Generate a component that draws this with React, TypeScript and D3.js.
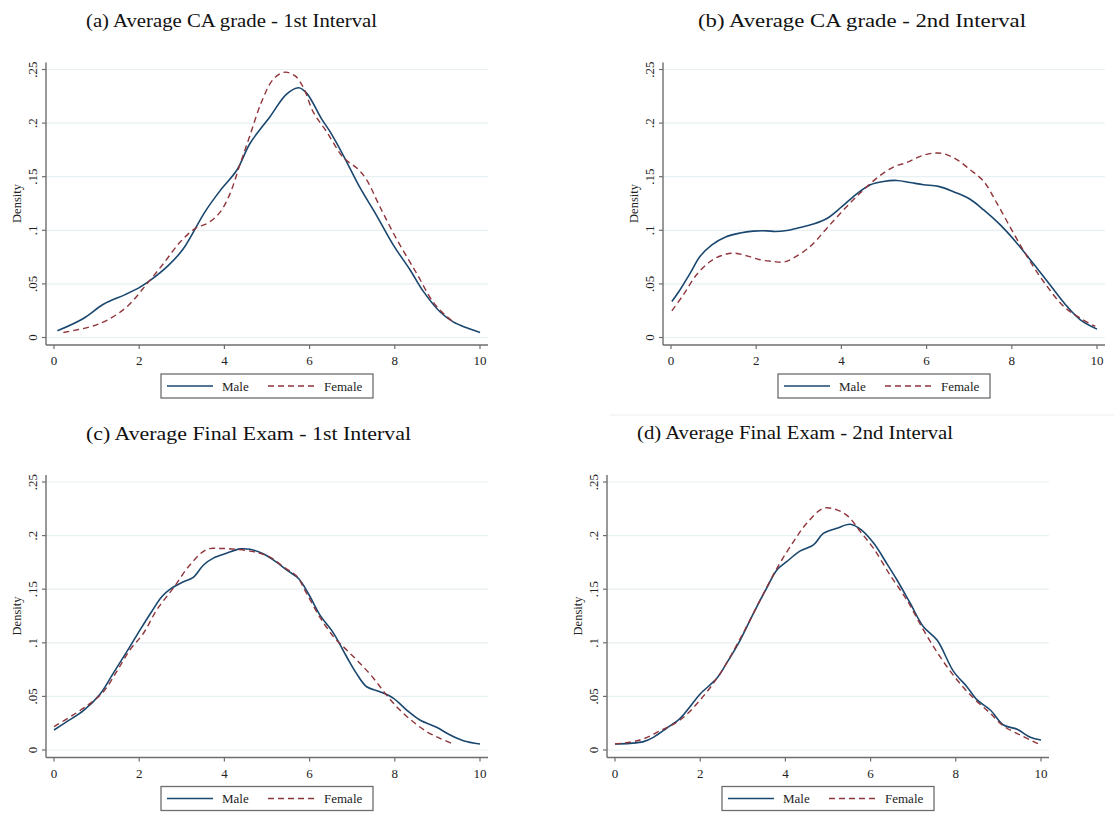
import React from "react";
import * as d3 from "d3";

// ---------- data ----------
const xTicks = [0, 2, 4, 6, 8, 10];
const yTicks = [0, 0.05, 0.1, 0.15, 0.2, 0.25];
const yTickLabels = ["0", ".05", ".1", ".15", ".2", ".25"];
const seriesNames = ["Male", "Female"];
const panelTitles = [
  "(a) Average CA grade - 1st Interval",
  "(b) Average CA grade - 2nd Interval",
  "(c) Average Final Exam - 1st Interval",
  "(d) Average Final Exam - 2nd Interval",
];

type P = [number, number];

const maleA: P[] = [
  [0.08, 0.0062], [0.69, 0.0177], [1.16, 0.031], [1.67, 0.04], [2.02, 0.047], [2.25, 0.053],
  [2.68, 0.067], [3.04, 0.083], [3.54, 0.117], [3.9, 0.137], [4.29, 0.156], [4.6, 0.181],
  [5.07, 0.206], [5.46, 0.227], [5.74, 0.233], [5.93, 0.228], [6.28, 0.204], [6.48, 0.192],
  [6.79, 0.17], [7.18, 0.14], [7.57, 0.114], [7.97, 0.086], [8.36, 0.063], [8.67, 0.043],
  [9.06, 0.024], [9.37, 0.0146], [9.69, 0.009], [10.0, 0.0047],
];
const femaleA: P[] = [
  [0.22, 0.0047], [0.85, 0.01], [1.24, 0.016], [1.71, 0.0286], [2.18, 0.05], [2.57, 0.069],
  [2.96, 0.089], [3.31, 0.1016], [3.62, 0.107], [3.9, 0.117], [4.13, 0.134], [4.37, 0.162],
  [4.6, 0.1885], [4.87, 0.2196], [5.15, 0.241], [5.42, 0.2475], [5.66, 0.244], [5.85, 0.2335],
  [6.09, 0.21], [6.4, 0.192], [6.79, 0.168], [7.14, 0.157], [7.34, 0.147], [7.65, 0.122],
  [8.04, 0.092], [8.51, 0.06], [8.9, 0.033], [9.18, 0.021], [9.37, 0.0146],
];
const maleB: P[] = [
  [0.02, 0.0336], [0.17, 0.042], [0.45, 0.06], [0.68, 0.0756], [0.96, 0.0865], [1.27, 0.0936],
  [1.62, 0.0974], [1.93, 0.0992], [2.25, 0.0995], [2.44, 0.0989], [2.72, 0.0998], [3.03, 0.1026],
  [3.34, 0.1058], [3.66, 0.111], [4.01, 0.122], [4.36, 0.134], [4.68, 0.1425], [4.99, 0.1456],
  [5.3, 0.1465], [5.61, 0.1446], [5.93, 0.1425], [6.28, 0.141], [6.63, 0.136], [7.02, 0.129],
  [7.34, 0.119], [7.73, 0.105], [8.12, 0.088], [8.51, 0.0687], [8.9, 0.049], [9.3, 0.0289],
  [9.61, 0.0165], [10.0, 0.0078],
];
const femaleB: P[] = [
  [0.02, 0.0249], [0.29, 0.0398], [0.6, 0.0585], [0.92, 0.0709], [1.19, 0.0765], [1.46, 0.0787],
  [1.78, 0.0762], [2.09, 0.0725], [2.4, 0.0709], [2.64, 0.0703], [2.87, 0.074], [3.27, 0.085],
  [3.66, 0.102], [4.05, 0.119], [4.44, 0.1347], [4.83, 0.1487], [5.22, 0.159], [5.54, 0.1633],
  [5.85, 0.169], [6.16, 0.172], [6.4, 0.1714], [6.71, 0.166], [7.02, 0.1565], [7.34, 0.1456],
  [7.65, 0.1253], [8.04, 0.0974], [8.43, 0.0709], [8.83, 0.0476], [9.22, 0.0289], [9.61, 0.018],
  [9.96, 0.0103],
];
const maleC: P[] = [
  [0.0, 0.0187], [0.3, 0.0264], [0.69, 0.0367], [1.08, 0.052], [1.39, 0.0715], [1.71, 0.0918],
  [2.02, 0.112], [2.29, 0.129], [2.53, 0.143], [2.76, 0.151], [3.04, 0.157], [3.27, 0.161],
  [3.51, 0.1726], [3.74, 0.179], [4.05, 0.1835], [4.37, 0.1876], [4.6, 0.1872], [4.91, 0.183],
  [5.23, 0.175], [5.46, 0.168], [5.74, 0.16], [5.97, 0.146], [6.24, 0.126], [6.56, 0.109],
  [6.87, 0.087], [7.1, 0.0715], [7.34, 0.059], [7.65, 0.0544], [7.97, 0.0482], [8.28, 0.0373],
  [8.59, 0.028], [8.98, 0.0212], [9.3, 0.014], [9.61, 0.0087], [10.0, 0.0056],
];
const femaleC: P[] = [
  [0.0, 0.0218], [0.45, 0.0327], [0.85, 0.0435], [1.16, 0.0544], [1.47, 0.073], [1.78, 0.0933],
  [2.1, 0.1089], [2.41, 0.1306], [2.8, 0.151], [3.19, 0.1726], [3.58, 0.187], [3.9, 0.188],
  [4.29, 0.1872], [4.68, 0.185], [5.07, 0.18], [5.38, 0.171], [5.7, 0.162], [5.93, 0.146],
  [6.24, 0.124], [6.56, 0.1058], [6.87, 0.0933], [7.18, 0.081], [7.5, 0.0669], [7.81, 0.051],
  [8.12, 0.0373], [8.43, 0.0264], [8.75, 0.0171], [9.06, 0.0109], [9.37, 0.0056],
];
const maleD: P[] = [
  [0.0, 0.0056], [0.35, 0.0062], [0.67, 0.0078], [0.9, 0.0118], [1.21, 0.0202], [1.53, 0.0295],
  [1.76, 0.0404], [2.0, 0.0523], [2.39, 0.0669], [2.62, 0.081], [2.94, 0.1026], [3.25, 0.1275],
  [3.56, 0.151], [3.8, 0.168], [4.03, 0.1757], [4.35, 0.1857], [4.66, 0.1913], [4.89, 0.202],
  [5.21, 0.2068], [5.52, 0.2106], [5.76, 0.206], [6.07, 0.193], [6.38, 0.174], [6.62, 0.1586],
  [6.93, 0.1369], [7.24, 0.115], [7.56, 0.1026], [7.95, 0.0731], [8.26, 0.0591], [8.5, 0.0467],
  [8.81, 0.0373], [9.12, 0.0233], [9.44, 0.0193], [9.75, 0.0118], [10.0, 0.0093],
];
const femaleD: P[] = [
  [0.0, 0.0056], [0.59, 0.0093], [1.06, 0.018], [1.53, 0.028], [2.0, 0.0467], [2.47, 0.0715],
  [2.94, 0.104], [3.41, 0.14], [3.8, 0.1695], [4.19, 0.1944], [4.5, 0.2115], [4.89, 0.2255],
  [5.21, 0.224], [5.48, 0.2177], [5.76, 0.2037], [6.07, 0.188], [6.46, 0.163], [6.85, 0.14],
  [7.24, 0.112], [7.63, 0.087], [8.03, 0.0653], [8.42, 0.0482], [8.81, 0.0342], [9.12, 0.0224],
  [9.51, 0.014], [9.83, 0.0078], [10.0, 0.0047],
];

// ---------- layout / style ----------
const W = 1114;
const H = 813;
const MALE = "#1a476f";
const FEMALE = "#90353b";
const AXIS = "#6e6e6e";
const GRID = "#e7f0f2";
const FONT = "'Liberation Serif', 'Times New Roman', serif";

const panels = [
  { title: panelTitles[0], male: maleA, female: femaleA, x0: 54, y0: 337.5, titleX: 86, titleY: 27, titleW: 291 },
  { title: panelTitles[1], male: maleB, female: femaleB, x0: 671, y0: 337.5, titleX: 698, titleY: 27, titleW: 328 },
  { title: panelTitles[2], male: maleC, female: femaleC, x0: 54, y0: 750, titleX: 86, titleY: 440, titleW: 325 },
  { title: panelTitles[3], male: maleD, female: femaleD, x0: 615, y0: 750, titleX: 637, titleY: 439, titleW: 316 },
];
const PW = 426;
const PH = 268;

function Panel({ p }: { p: (typeof panels)[number] }) {
  const x = d3.scaleLinear().domain([0, 10]).range([p.x0, p.x0 + PW]);
  const y = d3.scaleLinear().domain([0, 0.25]).range([p.y0, p.y0 - PH]);
  const line = d3
    .line<P>()
    .x((d) => x(d[0]))
    .y((d) => y(d[1]))
    .curve(d3.curveCatmullRom.alpha(0.5));
  const axisX = x(0) - 8;
  const axisY = y(0) + 7.5;
  const right = x(10) + 8;
  const top = y(0.25) - 7;
  const L = x(0) + 107;
  const LT = y(0) + 36.5;
  const LH = 24;
  const LM = LT + LH / 2;
  return (
    <g>
      <text x={p.titleX} y={p.titleY} fontSize={19.5} fontFamily={FONT} fill="#111"
        textLength={p.titleW} lengthAdjust="spacingAndGlyphs">{p.title}</text>
      {yTicks.map((t) => (
        <line key={"g" + t} x1={axisX} x2={right} y1={y(t)} y2={y(t)} stroke={GRID} strokeWidth={1.2} />
      ))}
      <line x1={axisX} x2={axisX} y1={top} y2={axisY} stroke={AXIS} strokeWidth={1.4} />
      <line x1={axisX} x2={right} y1={axisY} y2={axisY} stroke={AXIS} strokeWidth={1.4} />
      {yTicks.map((t, i) => (
        <g key={"y" + t}>
          <line x1={axisX - 4} x2={axisX} y1={y(t)} y2={y(t)} stroke={AXIS} strokeWidth={1.2} />
          <text transform={`translate(${axisX - 9},${y(t)}) rotate(-90)`} textAnchor="middle"
            fontSize={13} fontFamily={FONT} fill="#222">{yTickLabels[i]}</text>
        </g>
      ))}
      {xTicks.map((t) => (
        <g key={"x" + t}>
          <line x1={x(t)} x2={x(t)} y1={axisY} y2={axisY + 4} stroke={AXIS} strokeWidth={1.2} />
          <text x={x(t)} y={y(0) + 27.5} textAnchor="middle" fontSize={13} fontFamily={FONT} fill="#222">{t}</text>
        </g>
      ))}
      <text transform={`translate(${axisX - 25},${(y(0) + y(0.25)) / 2}) rotate(-90)`} textAnchor="middle"
        fontSize={12.5} fontFamily={FONT} fill="#222">Density</text>
      <path d={line(p.male) || ""} fill="none" stroke={MALE} strokeWidth={1.6} />
      <path d={line(p.female) || ""} fill="none" stroke={FEMALE} strokeWidth={1.4} strokeDasharray="6,4" />
      <rect x={L} y={LT} width={212} height={LH} fill="#fff" stroke={AXIS} strokeWidth={1.3} />
      <line x1={L + 6} x2={L + 52} y1={LM} y2={LM} stroke={MALE} strokeWidth={1.6} />
      <text x={L + 61} y={LM + 4.5} fontSize={13} fontFamily={FONT} fill="#222">{seriesNames[0]}</text>
      <line x1={L + 107} x2={L + 157} y1={LM} y2={LM} stroke={FEMALE} strokeWidth={1.4} strokeDasharray="6,4" />
      <text x={L + 163} y={LM + 4.5} fontSize={13} fontFamily={FONT} fill="#222">{seriesNames[1]}</text>
    </g>
  );
}

export default function App() {
  return (
    <svg width={W} height={H} style={{ position: "absolute", left: 0, top: 0, background: "#fff" }}>
      <rect width={W} height={H} fill="#fff" />
      <line x1={610} x2={W} y1={415} y2={415} stroke="#eeeeee" strokeWidth={1} />
      {panels.map((p, i) => (
        <Panel key={i} p={p} />
      ))}
    </svg>
  );
}
